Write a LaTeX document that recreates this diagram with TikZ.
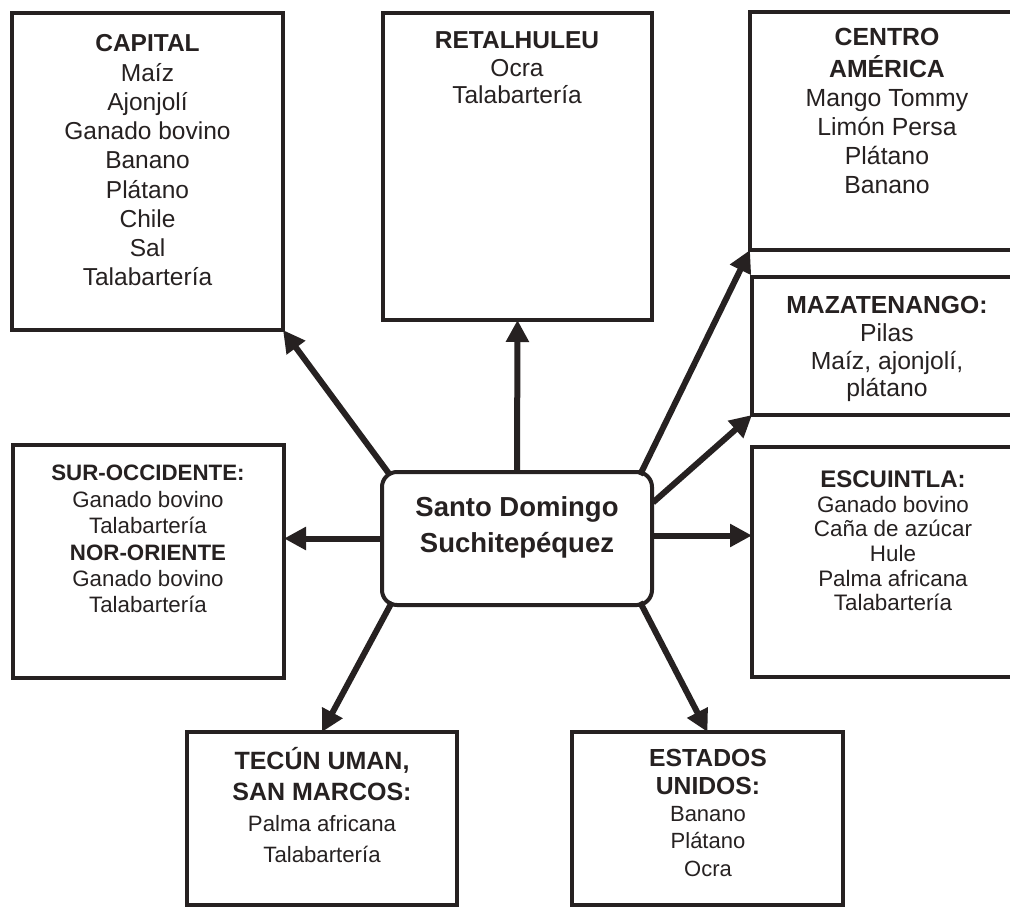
\documentclass[tikz,border=0pt]{standalone}
\usepackage{fontspec}
\setmainfont{Liberation Sans}
\usetikzlibrary{arrows.meta,calc}
\definecolor{ink}{RGB}{38,33,33}
\begin{document}
\begin{tikzpicture}[x=1pt,y=-1pt,
  box/.style={draw=ink,line width=4pt,inner sep=0pt,outer sep=0pt,rectangle},
  txt/.style={align=center,inner sep=0pt,outer sep=0pt,anchor=north,text=ink},
  arr/.style={draw=ink,line width=6pt,-{Triangle[length=22pt,width=22pt]}},
]
\fill[white] (0,0) rectangle (1010,907);
\clip (0,0) rectangle (1010,907);

% boxes
\node[box,minimum width=271pt,minimum height=317pt] (cap) at (147.5,171.5) {};
\node[box,minimum width=269pt,minimum height=307pt] (ret) at (517.5,166.5) {};
\node[box,minimum width=280pt,minimum height=238pt] (cen) at (890,131) {};
\node[box,minimum width=278pt,minimum height=138pt] (maz) at (891,346) {};
\node[box,minimum width=271pt,minimum height=233pt] (sur) at (148.5,561.5) {};
\node[box,minimum width=278pt,minimum height=230pt] (esc) at (891,562) {};
\node[box,minimum width=270pt,minimum height=173pt] (tec) at (322,818.5) {};
\node[box,minimum width=271pt,minimum height=173pt] (est) at (707.5,818.5) {};
\node[box,rounded corners=15pt,minimum width=270pt,minimum height=133pt] (ctr) at (517,538.5) {};

% texts
\node[txt,font=\fontsize{24.5}{29.25}\selectfont] (tcap) at (147.5,31.3)
  {\strut\textbf{CAPITAL}\\Maíz\\Ajonjolí\\Ganado bovino\\Banano\\Plátano\\Chile\\Sal\\Talabartería};
\node[txt,font=\fontsize{24.5}{27.5}\selectfont] (tret) at (517,29.5)
  {\strut\textbf{RETALHULEU}\\Ocra\\Talabartería};
\node[txt,font=\fontsize{24.8}{29}\selectfont] (tcen) at (887,25.6)
  {\strut\textbf{CENTRO}\\\textbf{AMÉRICA}\\Mango Tommy\\Limón Persa\\Plátano\\Banano};
\node[txt,font=\fontsize{24.7}{27.7}\selectfont] (tmaz) at (887,294.5)
  {\strut\textbf{MAZATENANGO:}\\Pilas\\Maíz, ajonjolí,\\plátano};
\node[txt,font=\fontsize{22.3}{26.4}\selectfont] (tsur) at (148,462.5)
  {\strut\textbf{SUR-OCCIDENTE:}\\Ganado bovino\\Talabartería\\\textbf{NOR-ORIENTE}\\Ganado bovino\\Talabartería};
\node[txt,font=\fontsize{22.4}{24.6}\selectfont] (tesc) at (893,470.4)
  {\strut{\fontsize{24}{24.6}\selectfont\bfseries ESCUINTLA:}\\Ganado bovino\\Caña de azúcar\\Hule\\Palma africana\\Talabartería};
\node[txt,font=\fontsize{22.2}{31}\selectfont] (ttec) at (322,747.2)
  {\strut{\fontsize{25}{31}\selectfont\bfseries TECÚN UMAN,}\\{\fontsize{25}{31}\selectfont\bfseries SAN MARCOS:}\\Palma africana\\Talabartería};
\node[txt,font=\fontsize{22}{27.3}\selectfont] (test) at (708,747.7)
  {\strut{\fontsize{24.7}{27.3}\selectfont\bfseries ESTADOS}\\{\fontsize{24.7}{27.3}\selectfont\bfseries UNIDOS:}\\Banano\\Plátano\\Ocra};
\node[txt,font=\fontsize{27.5}{36}\selectfont\bfseries] (tctr) at (517,491.6)
  {\strut Santo Domingo\\Suchitepéquez};

% connectors
\draw[arr] ([xshift=8pt,yshift=-3pt]ctr.north west) -- (cap.south east);
\draw[arr] (ctr.north) -- (ret.south);
\draw[arr] ([xshift=-12pt,yshift=-3pt]ctr.north east) -- (cen.south west);
\draw[arr] ([xshift=1pt,yshift=36pt]ctr.east) -- (maz.south west);
\draw[arr] ([yshift=3pt]ctr.east) -- ([yshift=3pt]ctr.east -| esc.west);
\draw[arr] (ctr.west) -- (ctr.west -| sur.east);
\draw[arr] ([xshift=10pt,yshift=3pt]ctr.south west) -- (tec.north);
\draw[arr] ([xshift=-12pt,yshift=3pt]ctr.south east) -- (est.north);
\end{tikzpicture}
\end{document}
